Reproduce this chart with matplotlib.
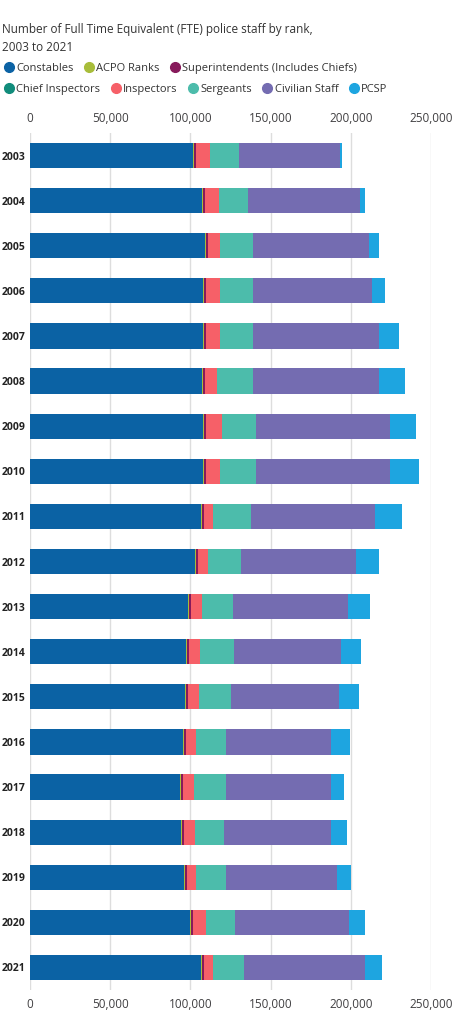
import matplotlib
matplotlib.use('Agg')
import matplotlib.pyplot as plt
from matplotlib.lines import Line2D
import numpy as np

plt.rcParams['font.family'] = ['Open Sans', 'DejaVu Sans']

years = [str(y) for y in range(2003, 2022)]
# values in thousands
constables = [101.5, 107.1, 109.0, 107.7, 107.7, 107.1, 107.7, 107.7, 106.4, 102.6,
              98.3, 97.0, 96.4, 95.1, 93.3, 93.9, 95.8, 99.5, 106.4]
acpo = [0.6] * 19
superintendents = [1.3] * 19
chief_inspectors = [0.3] * 19
inspectors = [8.4, 8.4, 7.2, 8.4, 8.4, 7.2, 9.6, 8.4, 5.3, 5.9,
              6.5, 6.5, 6.5, 5.9, 6.5, 6.5, 5.3, 7.8, 5.3]
sergeants = [18.1, 18.1, 20.6, 20.6, 20.6, 22.4, 21.2, 22.4, 23.7, 20.6,
             19.3, 21.2, 20.0, 18.7, 20.0, 18.1, 18.7, 18.1, 19.3]
civilian = [63.0, 69.8, 72.3, 74.2, 78.6, 78.6, 83.5, 83.5, 77.3, 71.7,
            71.7, 66.7, 67.3, 65.5, 65.5, 66.7, 69.2, 71.1, 75.4]
pcsp = [1.2, 3.1, 6.2, 8.1, 12.5, 16.2, 16.2, 18.1, 16.8, 14.3,
        13.7, 12.5, 12.5, 11.8, 8.1, 10.0, 8.7, 10.0, 10.6]

series = [
    ('Constables', constables, '#0b62a4'),
    ('ACPO Ranks', acpo, '#a8bd3a'),
    ('Superintendents (Includes Chiefs)', superintendents, '#871a5b'),
    ('Chief Inspectors', chief_inspectors, '#118c7b'),
    ('Inspectors', inspectors, '#f66068'),
    ('Sergeants', sergeants, '#4cbcab'),
    ('Civilian Staff', civilian, '#746cb1'),
    ('PCSP', pcsp, '#1ea5e0'),
]

fig = plt.figure(figsize=(4.56, 10.24), dpi=100)
ax = fig.add_axes([30 / 456, 34 / 1024, 401 / 456, (1024 - 34 - 133) / 1024])

y = np.arange(len(years))
left = np.zeros(len(years))
for name, vals, col in series:
    v = np.array(vals) * 1000
    ax.barh(y, v, left=left, height=0.56, color=col, label=name, zorder=3)
    left += v

ax.set_xlim(0, 250000)
ax.set_ylim(len(years) - 0.5, -0.5)
ax.set_xticks(np.arange(0, 250001, 50000))
ax.set_xticklabels([f'{t:,}' for t in range(0, 250001, 50000)])
ax.tick_params(axis='x', top=True, labeltop=True, length=0, labelsize=8.5,
               colors='#414042', pad=6)
ax.set_yticks(y)
ax.set_yticklabels(years, fontsize=7.5, fontweight='bold')
ax.tick_params(axis='y', length=0, pad=3, colors='#222222')
ax.grid(axis='x', color='#dddddd', lw=1, zorder=0)
for s in ax.spines.values():
    s.set_visible(False)

fig.text(0.005, 0.978, 'Number of Full Time Equivalent (FTE) police staff by rank,\n2003 to 2021',
         fontsize=8.5, color='#333333', va='top', linespacing=1.5)

handles = [Line2D([], [], marker='o', ls='', markersize=7, color=c) for _, _, c in series]
names = [n for n, _, _ in series]
kw = dict(frameon=False, fontsize=8.0, handletextpad=0.05, columnspacing=0.8,
          labelcolor='#333333', borderaxespad=0, handlelength=1.2)
fig.legend(handles[:3], names[:3], ncol=3, loc='upper left',
           bbox_to_anchor=(-0.005, 0.943), **kw)
fig.legend(handles[3:], names[3:], ncol=5, loc='upper left',
           bbox_to_anchor=(-0.005, 0.922), **kw)

fig.savefig('out.png', dpi=100)
